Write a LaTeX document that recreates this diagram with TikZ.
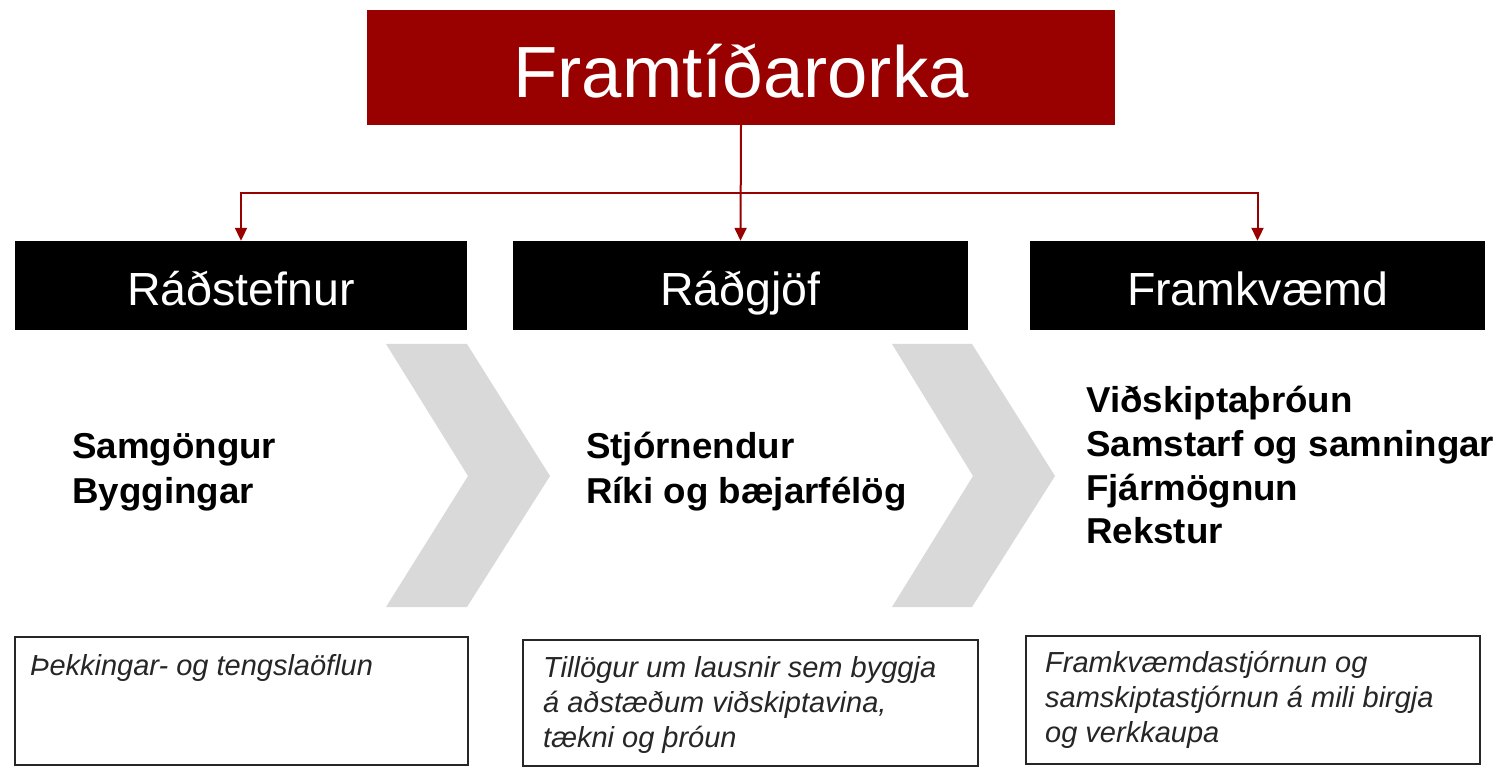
\documentclass[tikz,border=0pt]{standalone}
\usepackage{fontspec}
\setmainfont{Liberation Sans}
\newfontfamily\bodyfont[FakeStretch=1.02]{Liberation Sans}
\usetikzlibrary{arrows.meta}
\definecolor{dred}{HTML}{990000}
\definecolor{chev}{HTML}{D9D9D9}
\tikzset{
  titlebox/.style={fill=dred, text=white, inner sep=0pt, minimum width=748pt, minimum height=115pt,
    font=\fontsize{72.5}{80}\selectfont, text height=61pt, text depth=0pt},
  hdrbox/.style={fill=black, text=white, inner sep=0pt, minimum width=455pt, minimum height=89pt,
    font=\fontsize{46.5}{52}\selectfont, text height=41pt, text depth=0pt},
  notebox/.style={draw=black!85, line width=1.5pt, fill=white, inner sep=0pt},
  bodytxt/.style={anchor=base west, inner sep=0pt, font=\bodyfont\fontsize{36}{44}\selectfont\bfseries},
  notetxt/.style={anchor=base west, inner sep=0pt, text=black!85, font=\fontsize{29}{35}\selectfont\itshape},
  conn/.style={draw=dred, line width=2pt, -{Triangle[width=12pt,length=13pt]}},
  chevron/.style={fill=chev}
}
\begin{document}
\begin{tikzpicture}[x=1pt,y=1pt]
\useasboundingbox (0,0) rectangle (1505,-767);

% title
\node[titlebox] (title) at (741,-67.5) {Framtíðarorka};

% header boxes
\node[hdrbox, minimum width=452pt] (b1) at (241,-285.5) {Ráðstefnur};
\node[hdrbox] (b2) at (740.5,-285.5) {Ráðgjöf};
\node[hdrbox] (b3) at (1257.5,-285.5) {Framkvæmd};

% connectors
\coordinate (j) at (741,-193);
\draw[conn] (title.south) -- (b2.north);
\draw[conn] (j) -| (b1.north);
\draw[conn] (j) -| (b3.north);

% chevrons
\fill[chevron] (386,-344) -- (467,-344) -- (550,-476) -- (467,-607) -- (386,-607) -- (468,-476) -- cycle;
\fill[chevron] (892,-344) -- (972,-344) -- (1055,-476) -- (972,-607) -- (892,-607) -- (973,-476) -- cycle;

% body text
\node[bodytxt] (c1a) at (72,-458) {Samgöngur};
\node[bodytxt] (c1b) at (72,-503) {Byggingar};
\node[bodytxt] (c2a) at (586,-458) {Stjórnendur};
\node[bodytxt] (c2b) at (586,-503) {Ríki og bæjarfélög};
\node[bodytxt] (c3a) at (1086,-412) {Viðskiptaþróun};
\node[bodytxt] (c3b) at (1086,-456) {Samstarf og samningar};
\node[bodytxt] (c3c) at (1086,-500) {Fjármögnun};
\node[bodytxt] (c3d) at (1086,-543) {Rekstur};

% note boxes
\node[notebox, minimum width=453pt, minimum height=128pt] (n1) at (241.5,-701) {};
\node[notebox, minimum width=455pt, minimum height=126pt] (n2) at (750.5,-703) {};
\node[notebox, minimum width=454pt, minimum height=128pt] (n3) at (1253,-700) {};

\node[notetxt] (t1a) at (30,-675) {Þekkingar- og tengslaöflun};
\node[notetxt] (t2a) at (543,-677) {Tillögur um lausnir sem byggja};
\node[notetxt] (t2b) at (543,-712) {á aðstæðum viðskiptavina,};
\node[notetxt] (t2c) at (543,-747) {tækni og þróun};
\node[notetxt] (t3a) at (1045,-672) {Framkvæmdastjórnun og};
\node[notetxt] (t3b) at (1045,-707) {samskiptastjórnun á mili birgja};
\node[notetxt] (t3c) at (1045,-742) {og verkkaupa};
\end{tikzpicture}
\end{document}
